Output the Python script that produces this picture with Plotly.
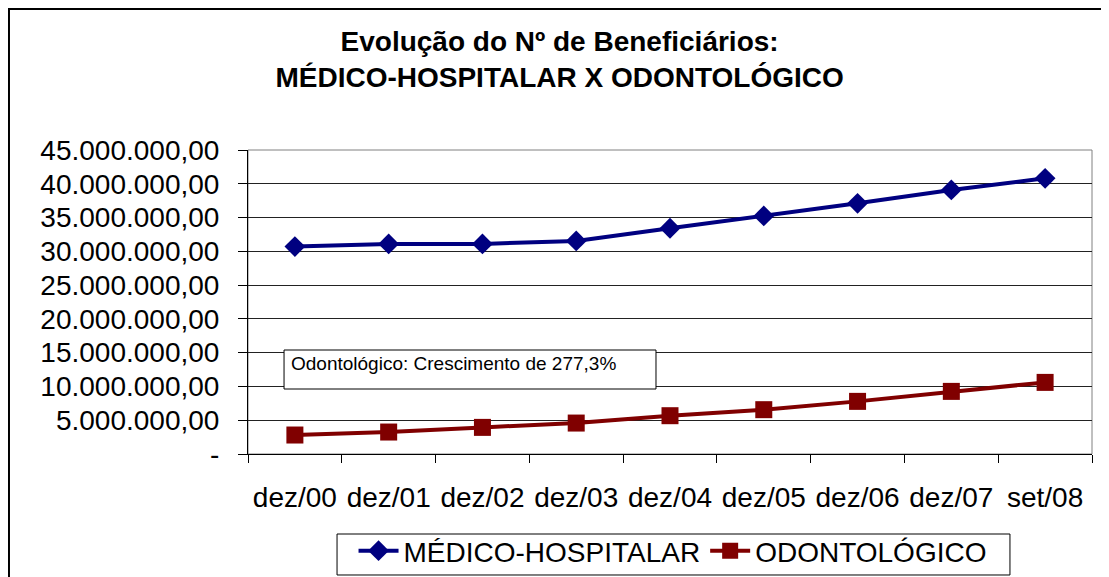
import plotly.graph_objects as go

# Beneficiary counts
periods = ["dez/00", "dez/01", "dez/02", "dez/03", "dez/04",
           "dez/05", "dez/06", "dez/07", "set/08"]
medico_hospitalar = [30_710_000, 31_100_000, 31_100_000, 31_540_000, 33_420_000,
                     35_240_000, 37_110_000, 39_090_000, 40_810_000]
odontologico = [2_810_000, 3_250_000, 3_940_000, 4_580_000, 5_670_000,
                6_560_000, 7_790_000, 9_270_000, 10_600_000]

y_ticks = [0, 5_000_000, 10_000_000, 15_000_000, 20_000_000,
           25_000_000, 30_000_000, 35_000_000, 40_000_000, 45_000_000]


def br_number(v):
    """Format like Excel pt-BR accounting: 45.000.000,00, zero as '-'"""
    if v == 0:
        return "-"
    s = f"{v:,.2f}"
    return s.replace(",", "X").replace(".", ",").replace("X", ".")


FONT = "Liberation Sans, Arial, sans-serif"

fig = go.Figure()
fig.add_trace(go.Scatter(
    x=periods, y=medico_hospitalar, name="MÉDICO-HOSPITALAR",
    mode="lines+markers",
    line=dict(color="#000080", width=4),
    marker=dict(symbol="diamond", size=16, color="#000080"),
))
fig.add_trace(go.Scatter(
    x=periods, y=odontologico, name="ODONTOLÓGICO",
    mode="lines+markers",
    line=dict(color="#800000", width=4),
    marker=dict(symbol="square", size=17, color="#800000"),
))

# the page body adds an 8px offset, so the figure is 8px smaller each way
fig.update_layout(
    width=1101, height=569,
    margin=dict(l=240, r=17, t=142, b=123, autoexpand=False),
    paper_bgcolor="white", plot_bgcolor="white",
    font=dict(family=FONT, color="black"),
    title=dict(
        text="<b>Evolução do Nº de Beneficiários:<br>MÉDICO-HOSPITALAR X ODONTOLÓGICO</b>",
        font=dict(size=28, family=FONT, color="black"),
        x=0.501, xanchor="center", y=0.925, yanchor="middle",
    ),
    showlegend=True,
    legend=dict(
        orientation="h", x=0.503, xanchor="center", y=-0.2368, yanchor="top",
        font=dict(size=28), borderwidth=0,
        bgcolor="rgba(0,0,0,0)", itemwidth=40,
    ),
)

fig.update_xaxes(
    type="category", range=[-0.5, 8.5], automargin=False,
    showgrid=False, tickson="boundaries", ticks="outside", ticklen=8,
    tickcolor="black", showline=True, linecolor="black", linewidth=1,
    tickfont=dict(size=28), ticklabelstandoff=18,
)
fig.update_yaxes(
    range=[0, 45_000_000], tickvals=y_ticks, automargin=False,
    ticktext=[br_number(v) for v in y_ticks],
    showgrid=True, gridcolor="#222222", gridwidth=1,
    ticks="outside", ticklen=9, tickcolor="black",
    showline=True, linecolor="black", linewidth=1,
    tickfont=dict(size=28), ticklabelstandoff=13,
    zeroline=False,
)

# plot area border (gray), outer chart border, legend frame and the text box
fig.add_shape(type="rect", xref="paper", yref="paper", x0=0, x1=1, y0=0, y1=1,
              line=dict(color="#808080", width=1), layer="below")
fig.add_shape(type="rect", xref="paper", yref="paper",
              x0=-0.2832, x1=1.2, y0=-0.6, y1=1.4638,
              line=dict(color="black", width=2))
fig.add_shape(type="rect", xref="paper", yref="paper",
              x0=0.1055, x1=0.9028, y0=-0.398, y1=-0.2632,
              line=dict(color="black", width=1), fillcolor="white")
fig.add_shape(type="rect", xref="paper", yref="paper",
              x0=0.0427, x1=0.4834, y0=0.2138, y1=0.3421,
              line=dict(color="black", width=1), fillcolor="white")
fig.add_annotation(
    text="Odontológico: Crescimento de 277,3%",
    xref="paper", yref="paper", x=0.0486, y=0.299,
    xanchor="left", yanchor="middle", showarrow=False,
    font=dict(size=19, family=FONT, color="black"),
)

fig.write_html("out.html")
